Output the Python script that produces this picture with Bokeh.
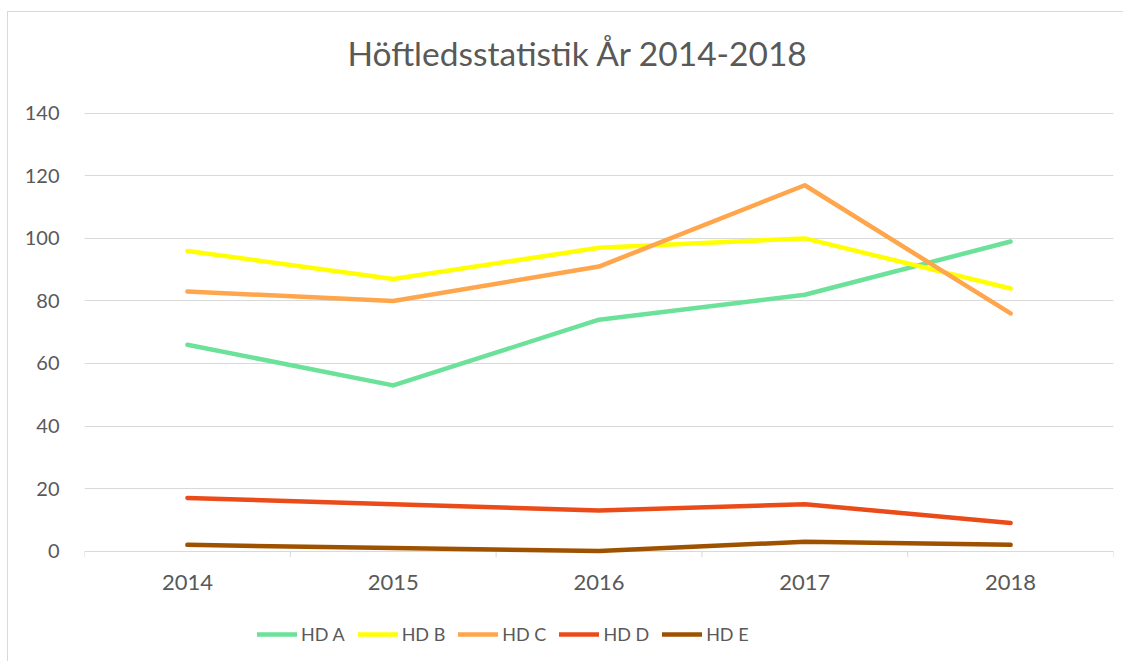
from bokeh.plotting import figure
from bokeh.models import FixedTicker, Legend, LegendItem, Title
from bokeh.core.properties import value
from bokeh.embed import file_html
from bokeh.resources import INLINE

years = [2014, 2015, 2016, 2017, 2018]
year_labels = ["2014", "2015", "2016", "2017", "2018"]
hd_a = [66, 53, 74, 82, 99]
hd_b = [96, 87, 97, 100, 84]
hd_c = [83, 80, 91, 117, 76]
hd_d = [17, 15, 13, 15, 9]
hd_e = [2, 1, 0, 3, 2]
series_names = ["HD A", "HD B", "HD C", "HD D", "HD E"]
series_values = [hd_a, hd_b, hd_c, hd_d, hd_e]
series_colors = ["#6BE19A", "#FFFF00", "#FFA64D", "#EB4B18", "#9E5200"]
y_ticks = [0, 20, 40, 60, 80, 100, 120, 140]
title_text = "Höftledsstatistik År 2014-2018"

FONT = "Lato"
TXT = "#595959"
GRID = "#D9D9D9"

# frame reaches down to the legend row and a little above 140; that space is empty
Y_BOTTOM = -33.7
Y_TOP = 147.3
p = figure(width=1116, height=650, output_backend="svg", toolbar_location=None,
           x_range=(years[0] - 0.5, years[-1] + 0.5), y_range=(Y_BOTTOM, Y_TOP),
           x_axis_location=None,
           min_border_left=76, min_border_right=11, min_border_top=77, min_border_bottom=6)
p.styles = {"border-top": "1px solid #D9D9D9", "border-left": "1px solid #D9D9D9",
            "margin-left": "7px", "margin-top": "11px"}
p.outline_line_color = None
p.background_fill_color = "white"
p.border_fill_color = "white"

t = Title(text=title_text, align="left", offset=263, text_font=FONT, text_font_size="33.5px",
          text_font_style="normal", text_color=TXT, standoff=36)
p.title = t

# y axis
p.yaxis.ticker = FixedTicker(ticks=y_ticks)
p.yaxis.axis_line_color = None
p.yaxis.major_tick_line_color = None
p.yaxis.minor_tick_line_color = None
p.yaxis.major_label_text_font = FONT
p.yaxis.major_label_text_font_size = "20px"
p.yaxis.major_label_text_color = TXT
p.yaxis.major_label_standoff = 19
p.ygrid.ticker = FixedTicker(ticks=y_ticks)
p.ygrid.grid_line_color = GRID
p.ygrid.grid_line_width = 1
p.xgrid.grid_line_color = None

# category boundary tick marks and year labels along y = 0
bounds = [y - 0.5 for y in years] + [years[-1] + 0.5]
p.segment(x0=bounds, y0=[0] * len(bounds), x1=bounds, y1=[-1.9] * len(bounds),
          line_color=GRID, line_width=1)
p.text(x=years, y=[0] * len(years), text=year_labels, text_font=value(FONT),
       text_font_size="22px", text_color=TXT, text_align="center",
       text_baseline="middle", y_offset=31)

items = []
for name, vals, col in zip(series_names, series_values, series_colors):
    r = p.line(years, vals, line_color=col, line_width=4.5, line_cap="round", line_join="round")
    items.append(LegendItem(label=name, renderers=[r]))

legend = Legend(items=items, orientation="horizontal", location=(173, 11),
                padding=0, margin=0, spacing=13, glyph_width=40, glyph_height=20,
                label_height=20, label_standoff=4, label_text_font=FONT,
                label_text_font_size="18px", label_text_color=TXT,
                border_line_color=None, background_fill_alpha=0)
p.add_layout(legend, "center")

open("out.html", "w").write(file_html(p, INLINE))
